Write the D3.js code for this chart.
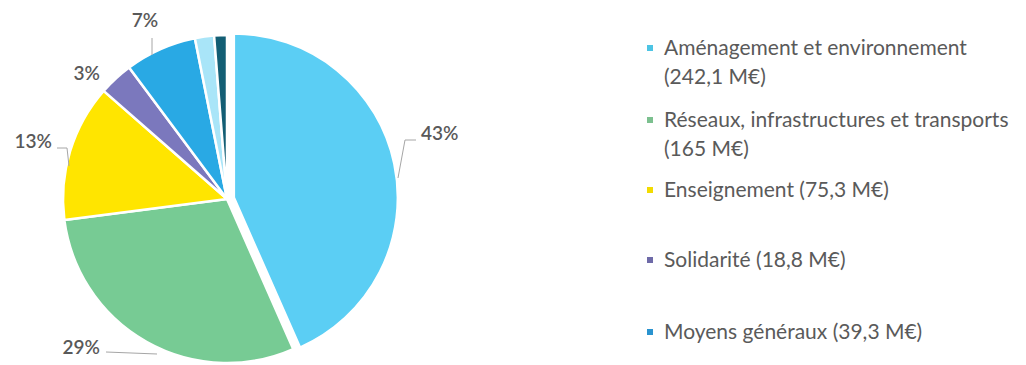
<!DOCTYPE html>
<html><head><meta charset="utf-8">
<script src="https://cdn.jsdelivr.net/npm/d3@7"></script>
<style>body{margin:0;background:#fff}svg{display:block}</style>
</head><body>
<svg id="c" width="1026" height="365"></svg>
<script>
// data
const categories = ["Aménagement et environnement","Réseaux, infrastructures et transports","Enseignement","Solidarité","Moyens généraux","Autre 1","Autre 2"];
const values = [242.1,165,75.3,18.8,39.3,10.5,7];
const pctLabels = ["43%","29%","13%","3%","7%","",""];
const legendLines = [["Aménagement et environnement","(242,1 M€)"],["Réseaux, infrastructures et transports","(165 M€)"],["Enseignement (75,3 M€)"],["Solidarité (18,8 M€)"],["Moyens généraux (39,3 M€)"]];
const colors = ["#5BCEF4","#77CB94","#FFE500","#7B78BD","#29A9E4","#A9E5F8","#135E74"];
const legendColors = ["#4DC4E4","#7CC08F","#F2DB00","#6E6AA8","#2A93CF"];

const svg = d3.select("#c");
const cx = 227, cy = 199, R = 164;
const pie = d3.pie().sort(null).value(d=>d)(values);
const arc = d3.arc().innerRadius(0).outerRadius(R);
const g = svg.append("g").attr("transform",`translate(${cx},${cy})`);
g.selectAll("path").data(pie).join("path")
  .attr("d",arc)
  .attr("fill",(d,i)=>colors[i])
  .attr("stroke","#fff").attr("stroke-width",2.5).attr("stroke-linejoin","round")
  .attr("transform",(d,i)=>{
    if(i!==0) return null;
    const a=(d.startAngle+d.endAngle)/2, o=7;
    return `translate(${Math.sin(a)*o},${-Math.cos(a)*o})`;
  });

// label layout (absolute positions for text and leader bends)
const labelLayout = [
  {tx:421, ty:140, anchor:"start", pts:[[398,178],[405,140],[416,140]]},
  {tx:100, ty:354, anchor:"end",   pts:[[106,352],[157,354]]},
  {tx:52,  ty:148, anchor:"end",   pts:[[57,148],[67,148],[69,166]]},
  {tx:100, ty:80,  anchor:"end",   pts:null},
  {tx:145, ty:27,  anchor:"middle",pts:[[152,38],[152,55]]}
];
const line = d3.line();
labelLayout.forEach((L,i)=>{
  if(L.pts) svg.append("path").attr("d",line(L.pts)).attr("fill","none").attr("stroke","#a6a6a6").attr("stroke-width",1);
  svg.append("text").attr("x",L.tx).attr("y",L.ty).attr("text-anchor",L.anchor)
    .attr("font-family","Lato, 'Open Sans', sans-serif").attr("font-size",19).attr("font-weight",600)
    .attr("fill","#595959").text(pctLabels[i]);
});

// legend
const legendY = [48,120,190,260,332];
const lg = svg.append("g");
legendLines.forEach((lines,i)=>{
  const y = legendY[i];
  lg.append("rect").attr("x",647).attr("y",y-3).attr("width",6).attr("height",6).attr("fill",legendColors[i]);
  lines.forEach((t,j)=>{
    lg.append("text").attr("x",664).attr("y",y+7+j*28.5)
      .attr("font-family","Lato, 'Open Sans', sans-serif").attr("font-size",21)
      .attr("fill","#5a5a5a").text(t);
  });
});
</script>
</body></html>
